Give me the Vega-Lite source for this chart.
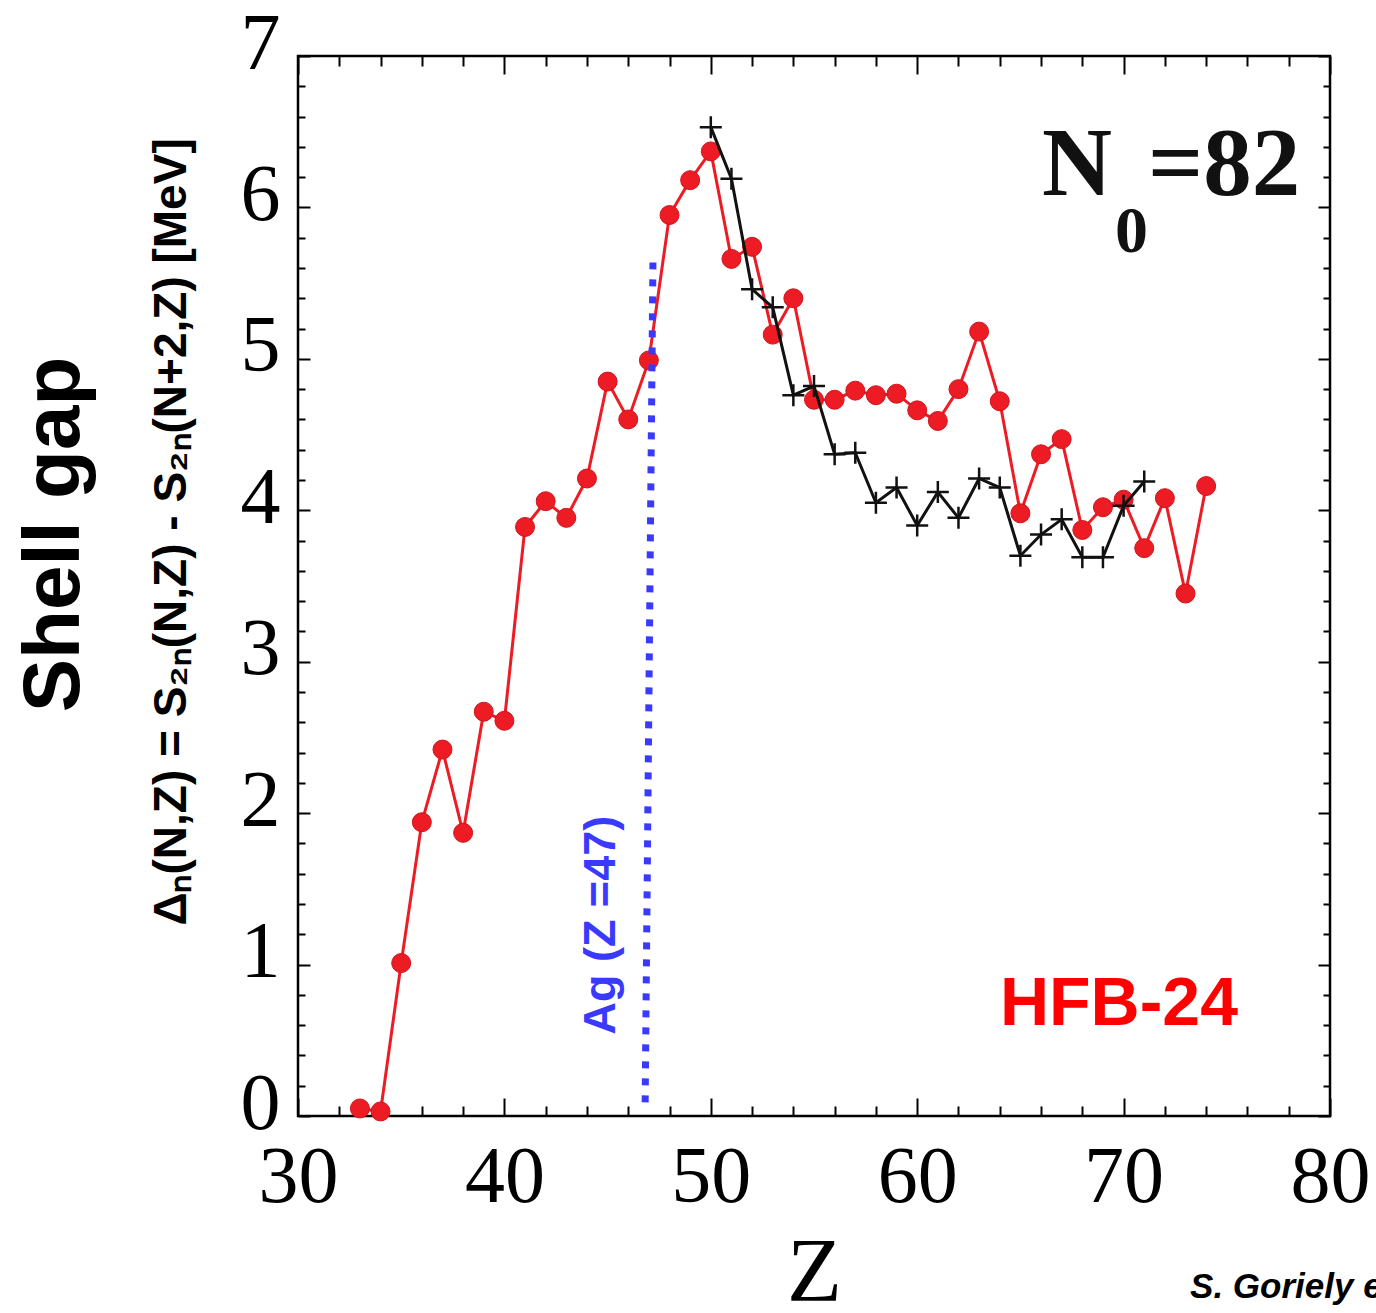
{
  "$schema": "https://vega.github.io/schema/vega-lite/v6.json",
  "width": 1032,
  "height": 1060,
  "autosize": {"type": "none"},
  "padding": {"left": 298, "top": 56, "right": 46, "bottom": 197},
  "background": "white",
  "config": {
    "view": {"stroke": "black", "strokeWidth": 2.5},
    "axis": {"grid": false, "domain": false, "tickColor": "black", "tickWidth": 2, "labelColor": "black"}
  },
  "datasets": {
    "hfb": [
      {"Z": 33, "gap": 0.05}, {"Z": 34, "gap": 0.03}, {"Z": 35, "gap": 1.01}, {"Z": 36, "gap": 1.94},
      {"Z": 37, "gap": 2.42}, {"Z": 38, "gap": 1.87}, {"Z": 39, "gap": 2.67}, {"Z": 40, "gap": 2.61},
      {"Z": 41, "gap": 3.89}, {"Z": 42, "gap": 4.06}, {"Z": 43, "gap": 3.95}, {"Z": 44, "gap": 4.21},
      {"Z": 45, "gap": 4.85}, {"Z": 46, "gap": 4.60}, {"Z": 47, "gap": 4.99}, {"Z": 48, "gap": 5.95},
      {"Z": 49, "gap": 6.18}, {"Z": 50, "gap": 6.37}, {"Z": 51, "gap": 5.66}, {"Z": 52, "gap": 5.74},
      {"Z": 53, "gap": 5.16}, {"Z": 54, "gap": 5.40}, {"Z": 55, "gap": 4.73}, {"Z": 56, "gap": 4.73},
      {"Z": 57, "gap": 4.79}, {"Z": 58, "gap": 4.76}, {"Z": 59, "gap": 4.77}, {"Z": 60, "gap": 4.66},
      {"Z": 61, "gap": 4.59}, {"Z": 62, "gap": 4.80}, {"Z": 63, "gap": 5.18}, {"Z": 64, "gap": 4.72},
      {"Z": 65, "gap": 3.98}, {"Z": 66, "gap": 4.37}, {"Z": 67, "gap": 4.47}, {"Z": 68, "gap": 3.87},
      {"Z": 69, "gap": 4.02}, {"Z": 70, "gap": 4.07}, {"Z": 71, "gap": 3.75}, {"Z": 72, "gap": 4.08},
      {"Z": 73, "gap": 3.45}, {"Z": 74, "gap": 4.16}
    ],
    "exp": [
      {"Z": 50, "gap": 6.53}, {"Z": 51, "gap": 6.19}, {"Z": 52, "gap": 5.46}, {"Z": 53, "gap": 5.34},
      {"Z": 54, "gap": 4.76}, {"Z": 55, "gap": 4.82}, {"Z": 56, "gap": 4.37}, {"Z": 57, "gap": 4.38},
      {"Z": 58, "gap": 4.05}, {"Z": 59, "gap": 4.15}, {"Z": 60, "gap": 3.90}, {"Z": 61, "gap": 4.12},
      {"Z": 62, "gap": 3.95}, {"Z": 63, "gap": 4.21}, {"Z": 64, "gap": 4.15}, {"Z": 65, "gap": 3.70},
      {"Z": 66, "gap": 3.84}, {"Z": 67, "gap": 3.94}, {"Z": 68, "gap": 3.69}, {"Z": 69, "gap": 3.69},
      {"Z": 70, "gap": 4.03}, {"Z": 71, "gap": 4.19}
    ],
    "one": [{}]
  },
  "resolve": {"axis": {"x": "independent", "y": "independent"}},
  "layer": [
    {
      "data": {"name": "hfb"},
      "mark": {"type": "line", "color": "#ed1c24", "strokeWidth": 3},
      "encoding": {
        "x": {"field": "Z", "type": "quantitative", "scale": {"domain": [30, 80], "nice": false, "zero": false},
          "axis": {"orient": "bottom", "values": [30, 40, 50, 60, 70, 80], "ticks": false, "format": "d",
            "labelFont": "Liberation Serif", "labelFontSize": 80, "labelPadding": 22, "labelFlush": false, "labelOverlap": false,
            "title": "Z", "titleFont": "Liberation Serif", "titleFontSize": 90, "titleFontWeight": "normal", "titleColor": "black", "titlePadding": 12}},
        "y": {"field": "gap", "type": "quantitative", "scale": {"domain": [0, 7], "nice": false, "zero": false},
          "axis": {"orient": "left", "values": [0, 1, 2, 3, 4, 5, 6, 7], "ticks": false, "format": "d",
            "labelFont": "Liberation Serif", "labelFontSize": 80, "labelPadding": 18, "labelOffset": -12, "labelFlush": false, "labelOverlap": false,
            "title": null}}
      }
    },
    {
      "data": {"name": "hfb"},
      "mark": {"type": "point", "shape": "circle", "filled": true, "size": 360, "color": "#ed1c24", "opacity": 1, "stroke": "#d0141c", "strokeWidth": 1},
      "encoding": {
        "x": {"field": "Z", "type": "quantitative", "scale": {"domain": [30, 80], "nice": false, "zero": false},
          "axis": {"orient": "bottom", "values": [30, 40, 50, 60, 70, 80], "labels": false, "tickSize": -18, "title": null}},
        "y": {"field": "gap", "type": "quantitative", "scale": {"domain": [0, 7], "nice": false, "zero": false},
          "axis": {"orient": "left", "values": [0, 1, 2, 3, 4, 5, 6, 7], "labels": false, "tickSize": -12, "title": null}}
      }
    },
    {
      "data": {"name": "exp"},
      "mark": {"type": "line", "color": "#111111", "strokeWidth": 3},
      "encoding": {
        "x": {"field": "Z", "type": "quantitative",
          "axis": {"orient": "bottom", "values": [32, 34, 36, 38, 42, 44, 46, 48, 52, 54, 56, 58, 62, 64, 66, 68, 72, 74, 76, 78], "labels": false, "tickSize": -10, "title": null}},
        "y": {"field": "gap", "type": "quantitative",
          "axis": {"orient": "left", "values": [0.2, 0.4, 0.6, 0.8, 1.2, 1.4, 1.6, 1.8, 2.2, 2.4, 2.6, 2.8, 3.2, 3.4, 3.6, 3.8, 4.2, 4.4, 4.6, 4.8, 5.2, 5.4, 5.6, 5.8, 6.2, 6.4, 6.6, 6.8], "labels": false, "tickSize": -7, "title": null}}
      }
    },
    {
      "data": {"name": "exp"},
      "mark": {"type": "point", "shape": "M-1,0L1,0M0,-1L0,1", "filled": false, "size": 484, "stroke": "#111111", "strokeWidth": 2.5, "opacity": 1},
      "encoding": {
        "x": {"field": "Z", "type": "quantitative",
          "axis": {"orient": "top", "values": [30, 40, 50, 60, 70, 80], "labels": false, "tickSize": -18, "title": null}},
        "y": {"field": "gap", "type": "quantitative",
          "axis": {"orient": "right", "values": [0, 1, 2, 3, 4, 5, 6, 7], "labels": false, "tickSize": -12, "title": null}}
      }
    },
    {
      "data": {"name": "one"},
      "mark": {"type": "rule", "color": "#3a3aff", "strokeWidth": 7, "strokeDash": [7, 10], "strokeCap": "butt"},
      "encoding": {
        "x": {"datum": 46.82, "type": "quantitative",
          "axis": {"orient": "top", "values": [32, 34, 36, 38, 42, 44, 46, 48, 52, 54, 56, 58, 62, 64, 66, 68, 72, 74, 76, 78], "labels": false, "tickSize": -10, "title": null}},
        "x2": {"datum": 47.2},
        "y": {"datum": 0.09, "type": "quantitative",
          "axis": {"orient": "right", "values": [0.2, 0.4, 0.6, 0.8, 1.2, 1.4, 1.6, 1.8, 2.2, 2.4, 2.6, 2.8, 3.2, 3.4, 3.6, 3.8, 4.2, 4.4, 4.6, 4.8, 5.2, 5.4, 5.6, 5.8, 6.2, 6.4, 6.6, 6.8], "labels": false, "tickSize": -7, "title": null}},
        "y2": {"datum": 5.69}
      }
    },
    {
      "data": {"name": "one"},
      "mark": {"type": "text", "text": "Ag (Z =47)", "font": "Liberation Sans", "fontWeight": "bold", "fontSize": 45, "color": "#3a3aff", "angle": 270, "align": "center", "baseline": "alphabetic"},
      "encoding": {"x": {"datum": 45.36, "type": "quantitative", "axis": null}, "y": {"datum": 1.26, "type": "quantitative", "axis": null}}
    },
    {
      "data": {"name": "one"},
      "mark": {"type": "text", "text": "N", "font": "Liberation Serif", "fontWeight": "bold", "fontSize": 97, "color": "#111111", "align": "left", "baseline": "alphabetic"},
      "encoding": {"x": {"datum": 66.05, "type": "quantitative", "axis": null}, "y": {"datum": 6.083, "type": "quantitative", "axis": null}}
    },
    {
      "data": {"name": "one"},
      "mark": {"type": "text", "text": "0", "font": "Liberation Serif", "fontWeight": "bold", "fontSize": 66, "color": "#111111", "align": "left", "baseline": "alphabetic"},
      "encoding": {"x": {"datum": 69.58, "type": "quantitative", "axis": null}, "y": {"datum": 5.707, "type": "quantitative", "axis": null}}
    },
    {
      "data": {"name": "one"},
      "mark": {"type": "text", "text": "=82", "font": "Liberation Serif", "fontWeight": "bold", "fontSize": 97, "color": "#111111", "align": "left", "baseline": "alphabetic"},
      "encoding": {"x": {"datum": 71.18, "type": "quantitative", "axis": null}, "y": {"datum": 6.083, "type": "quantitative", "axis": null}}
    },
    {
      "data": {"name": "one"},
      "mark": {"type": "text", "text": "HFB-24", "font": "Liberation Sans", "fontWeight": "bold", "fontSize": 68, "color": "#ff0000", "align": "left", "baseline": "alphabetic"},
      "encoding": {"x": {"datum": 64.01, "type": "quantitative", "axis": null}, "y": {"datum": 0.601, "type": "quantitative", "axis": null}}
    },
    {
      "data": {"name": "one"},
      "mark": {"type": "text", "text": "Shell gap", "font": "Liberation Sans", "fontWeight": "bold", "fontSize": 80, "color": "black", "angle": 270, "align": "center", "baseline": "alphabetic"},
      "encoding": {"x": {"datum": 19.4, "type": "quantitative", "axis": null}, "y": {"datum": 3.84, "type": "quantitative", "axis": null}}
    },
    {
      "data": {"name": "one"},
      "mark": {"type": "text", "text": "Δₙ(N,Z) = S₂ₙ(N,Z) - S₂ₙ(N+2,Z) [MeV]", "font": "Liberation Sans", "fontWeight": "bold", "fontSize": 46, "color": "black", "angle": 270, "align": "center", "baseline": "alphabetic"},
      "encoding": {"x": {"datum": 24.57, "type": "quantitative", "axis": null}, "y": {"datum": 3.857, "type": "quantitative", "axis": null}}
    },
    {
      "data": {"name": "one"},
      "mark": {"type": "text", "text": "S. Goriely et al.", "font": "Liberation Sans", "fontWeight": "bold", "fontStyle": "italic", "fontSize": 35, "color": "black", "align": "left", "baseline": "alphabetic"},
      "encoding": {"x": {"datum": 73.22, "type": "quantitative", "axis": null}, "y": {"datum": -1.202, "type": "quantitative", "axis": null}}
    }
  ]
}
